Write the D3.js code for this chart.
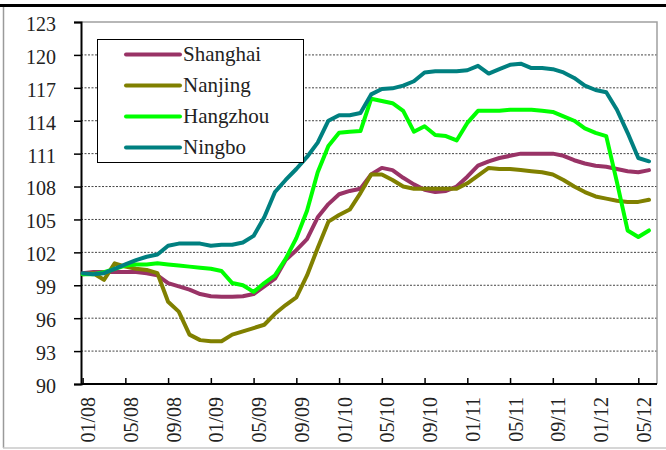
<!DOCTYPE html>
<html>
<head>
<meta charset="utf-8">
<script src="https://cdn.jsdelivr.net/npm/d3@7"></script>
<style>
    body { margin: 0; background: #fff; }
    svg { display: block; }
    text { font-family: "Liberation Serif", "Times New Roman", serif; fill: #222; }
</style>
</head>
<body>
<svg id="chart"></svg>
<script>
// monthly index, Jan 2008 = 0 ... Jun 2012 = 53
const tickLabels = ["01/08", "05/08", "09/08", "01/09", "05/09", "09/09", "01/10",
    "05/10", "09/10", "01/11", "05/11", "09/11", "01/12", "05/12"];
const yTicks = [90, 93, 96, 99, 102, 105, 108, 111, 114, 117, 120, 123];

const cities = ["Shanghai", "Nanjing", "Hangzhou", "Ningbo"];
const colors = ["#993366", "#808000", "#00ff00", "#008080"];

const shanghai = [100.1, 100.2, 100.2, 100.2, 100.2, 100.2, 100.1, 99.9, 99.2, 98.9,
    98.6, 98.2, 98.0, 97.95, 97.95, 98.0, 98.2, 98.9, 99.6, 101.3,
    102.2, 103.2, 105.2, 106.4, 107.3, 107.6, 107.8, 109.1, 109.7, 109.5,
    108.8, 108.2, 107.7, 107.5, 107.6, 108.0, 108.9, 109.9, 110.3, 110.6,
    110.8, 111.0, 111.0, 111.0, 111.0, 110.8, 110.4, 110.1, 109.9, 109.8,
    109.6, 109.4, 109.3, 109.5];
const nanjing = [100.0, 100.1, 99.5, 101.0, 100.7, 100.5, 100.4, 100.1, 97.5, 96.6,
    94.5, 94.0, 93.9, 93.9, 94.5, 94.8, 95.1, 95.4, 96.4, 97.2,
    97.9, 99.9, 102.4, 104.8, 105.4, 105.9, 107.4, 109.1, 109.1, 108.6,
    108.0, 107.8, 107.8, 107.8, 107.8, 107.8, 108.3, 109.0, 109.7, 109.6,
    109.6, 109.5, 109.4, 109.3, 109.1, 108.6, 108.0, 107.5, 107.1, 106.9,
    106.7, 106.6, 106.6, 106.8];
const hangzhou = [100.0, 100.0, 100.2, 100.5, 100.8, 100.9, 100.9, 101.0, 100.9, 100.8,
    100.7, 100.6, 100.5, 100.3, 99.2, 99.0, 98.4, 99.2, 99.9, 101.4,
    103.3, 105.8, 109.3, 111.7, 112.9, 113.0, 113.06, 116.0, 115.8, 115.6,
    114.9, 113.0, 113.5, 112.7, 112.6, 112.2, 113.8, 114.9, 114.9, 114.9,
    115.0, 115.0, 115.0, 114.9, 114.8, 114.4, 114.0, 113.3, 112.9, 112.6,
    108.4, 104.0, 103.4, 104.0];
const ningbo = [100.1, 100.0, 100.1, 100.5, 100.9, 101.3, 101.6, 101.8, 102.6, 102.8,
    102.8, 102.8, 102.6, 102.7, 102.7, 102.9, 103.5, 105.2, 107.5, 108.6,
    109.6, 110.7, 112.0, 114.0, 114.5, 114.5, 114.7, 116.4, 116.9, 116.95,
    117.2, 117.6, 118.4, 118.5, 118.5, 118.5, 118.6, 119.0, 118.3, 118.7,
    119.1, 119.2, 118.8, 118.8, 118.7, 118.4, 117.9, 117.2, 116.8, 116.6,
    115.0, 112.9, 110.6, 110.3];

const series = [shanghai, nanjing, hangzhou, ningbo];

const width = 666;
const height = 450;
const plot = { left: 81, right: 657, top: 22, bottom: 384 };

const svg = d3.select("#chart")
    .attr("width", width)
    .attr("height", height);

// frame of the pasted chart
svg.append("line")
    .attr("x1", 0).attr("x2", width).attr("y1", 5.5).attr("y2", 5.5)
    .attr("stroke", "#000").attr("stroke-width", 3);
svg.append("line")
    .attr("x1", 3.5).attr("x2", 3.5).attr("y1", 7).attr("y2", 448)
    .attr("stroke", "#9a9a9a").attr("stroke-width", 1.5);
svg.append("line")
    .attr("x1", 3).attr("x2", width).attr("y1", 448).attr("y2", 448)
    .attr("stroke", "#c8c8c8").attr("stroke-width", 1.5);

const xScale = d3.scaleLinear()
    .domain([-0.15, 53.75])
    .range([plot.left, plot.right]);

const yScale = d3.scaleLinear()
    .domain([90, 123])
    .range([plot.bottom, plot.top]);

// gridlines
svg.append("g")
    .selectAll("line")
    .data(yTicks.filter(d => d > 90 && d < 123))
    .enter()
    .append("line")
    .attr("x1", plot.left)
    .attr("x2", plot.right)
    .attr("y1", d => yScale(d))
    .attr("y2", d => yScale(d))
    .attr("stroke", "#444")
    .attr("stroke-width", 1)
    .attr("stroke-dasharray", "2,1.5");

// plot area border (top, right)
svg.append("path")
    .attr("d", `M${plot.left},${plot.top}H${plot.right}V${plot.bottom}`)
    .attr("fill", "none")
    .attr("stroke", "#a0a0a0")
    .attr("stroke-width", 1.5);

// y axis
const yAxis = svg.append("g")
    .attr("transform", `translate(${plot.left}, 0)`)
    .call(d3.axisLeft(yScale).tickValues(yTicks).tickSize(7).tickPadding(18));
yAxis.select(".domain").attr("stroke", "#000").attr("stroke-width", 2);
yAxis.selectAll(".tick line").attr("stroke", "#000").attr("stroke-width", 1.5);
yAxis.selectAll(".tick text")
    .attr("font-size", 20)
    .attr("dy", "0.42em")
    .style("font-family", "'Liberation Serif', serif")
    .attr("fill", "#222");

// x axis
const tickIdx = tickLabels.map((d, i) => i * 4);
const xAxis = svg.append("g")
    .attr("transform", `translate(0, ${plot.bottom})`)
    .call(d3.axisBottom(xScale).tickValues(tickIdx).tickSize(-6).tickFormat((d, i) => tickLabels[i]));
xAxis.select(".domain").attr("stroke", "#000").attr("stroke-width", 2)
    .attr("d", `M${plot.left},0H${plot.right}`);
xAxis.selectAll(".tick line").attr("stroke", "#000").attr("stroke-width", 1.5);
xAxis.selectAll(".tick text")
    .attr("font-size", 20)
    .style("font-family", "'Liberation Serif', serif")
    .attr("fill", "#222")
    .attr("text-anchor", "end")
    .attr("transform", "translate(0, 13) rotate(-90)")
    .attr("x", 0)
    .attr("y", 0)
    .attr("dy", "0.6em");

// lines
const line = d3.line()
    .x((d, i) => xScale(i))
    .y(d => yScale(d));

svg.append("g")
    .selectAll("path")
    .data(series)
    .enter()
    .append("path")
    .attr("d", d => line(d))
    .attr("fill", "none")
    .attr("stroke", (d, i) => colors[i])
    .attr("stroke-width", 4)
    .attr("stroke-linejoin", "round")
    .attr("stroke-linecap", "round");

// legend
const legend = svg.append("g");
legend.append("rect")
    .attr("x", 97.5).attr("y", 39.5)
    .attr("width", 206).attr("height", 123)
    .attr("fill", "#fff")
    .attr("stroke", "#000")
    .attr("stroke-width", 1);

const items = legend.selectAll("g.item")
    .data(cities)
    .enter()
    .append("g")
    .attr("class", "item")
    .attr("transform", (d, i) => `translate(0, ${54.5 + i * 31})`);

items.append("line")
    .attr("x1", 126).attr("x2", 180)
    .attr("stroke", (d, i) => colors[i])
    .attr("stroke-width", 4)
    .attr("stroke-linecap", "round");

items.append("text")
    .attr("x", 183)
    .attr("dy", "0.33em")
    .attr("font-size", 21)
    .text(d => d);
</script>
</body>
</html>
